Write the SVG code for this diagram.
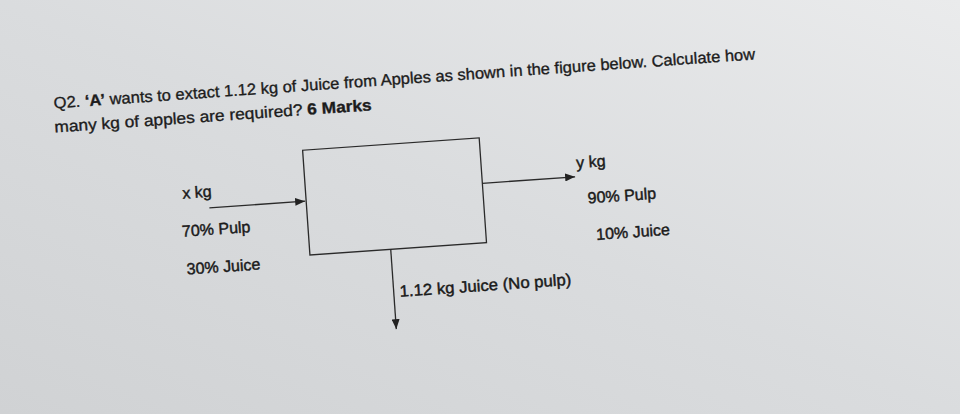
<svg xmlns="http://www.w3.org/2000/svg" width="960" height="414" viewBox="0 0 960 414">
<defs>
<linearGradient id="bg" x1="0" y1="1" x2="1" y2="0">
<stop offset="0" stop-color="#d0d2d4"/>
<stop offset="0.5" stop-color="#dadcde"/>
<stop offset="1" stop-color="#eaebec"/>
</linearGradient>
<marker id="ah" viewBox="0 0 10 8" refX="10" refY="4" markerWidth="10" markerHeight="8" markerUnits="userSpaceOnUse" orient="auto">
<path d="M0,0 L10,4 L0,8 Z" fill="#222"/>
</marker>
<style>
.t{font-family:"Liberation Sans",Arial,sans-serif;fill:#1c1c1c;stroke:#1c1c1c;stroke-width:0.35;font-size:16px}
.l{font-family:"Liberation Sans",Arial,sans-serif;fill:#1a1a1a;stroke:#1a1a1a;stroke-width:0.45;font-size:16px}
.b{font-weight:bold}
.c{stroke:#2a2a2a;stroke-width:1.3;fill:none}
</style>
</defs>
<rect x="0" y="0" width="960" height="414" fill="url(#bg)"/>
<g transform="rotate(-4 480 207)">
<g id="question">
<text class="t" x="62" y="79" textLength="703" lengthAdjust="spacingAndGlyphs">Q2. <tspan class="b">‘A’</tspan> wants to extact  1.12 kg of Juice from Apples as shown in the figure below. Calculate how</text>
<text class="t" x="61" y="103" textLength="318" lengthAdjust="spacingAndGlyphs">many kg of apples are required?  <tspan class="b">6 Marks</tspan></text>
</g>
<g id="process">
<rect class="c" x="307" y="138" width="177" height="105"/>
</g>
<g id="feed">
<text class="l" x="184" y="178">x kg</text>
<text class="l" x="181" y="216">70% Pulp</text>
<text class="l" x="183" y="254">30% Juice</text>
</g>
<g id="pulp-out">
<text class="l" x="579" y="175">y kg</text>
<text class="l" x="588" y="211">90% Pulp</text>
<text class="l" x="594" y="248">10% Juice</text>
</g>
<g id="juice-out">
<text class="l" x="394" y="291" textLength="172" lengthAdjust="spacingAndGlyphs">1.12 kg Juice (No pulp)</text>
</g>
<g id="connectors">
<line class="c" x1="210" y1="189" x2="306" y2="189" marker-end="url(#ah)"/>
<line class="c" x1="484" y1="183.5" x2="577" y2="183.5" marker-end="url(#ah)"/>
<line class="c" x1="388" y1="243" x2="388" y2="323" marker-end="url(#ah)"/>
</g>
</g>
</svg>
